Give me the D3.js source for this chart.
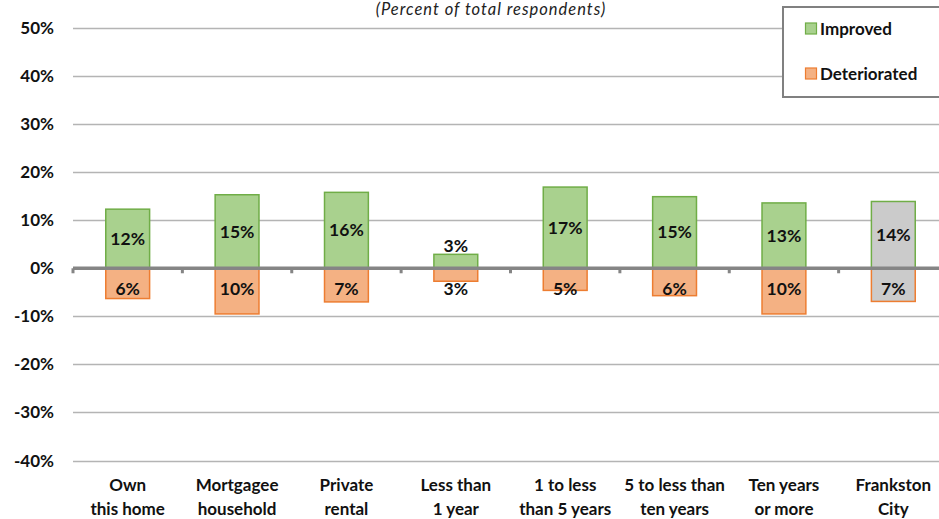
<!DOCTYPE html>
<html><head><meta charset="utf-8">
<script src="https://cdn.jsdelivr.net/npm/d3@7"></script>
<style>
html,body{margin:0;padding:0;background:#fff;overflow:hidden;}
text{font-family:Lato,"Open Sans",sans-serif;}
</style></head>
<body>
<svg id="chart" width="939" height="519"></svg>
<script>
const categories = [
  ["Own","this home"],
  ["Mortgagee","household"],
  ["Private","rental"],
  ["Less than","1 year"],
  ["1 to less","than 5 years"],
  ["5 to less than","ten years"],
  ["Ten years","or more"],
  ["Frankston","City"]
];
const improved = [12.3, 15.3, 15.8, 2.9, 16.9, 14.9, 13.6, 13.9];
const improvedLabels = ["12%","15%","16%","3%","17%","15%","13%","14%"];
const deteriorated = [-6.3, -9.5, -7.0, -2.7, -4.6, -5.7, -9.5, -6.9];
const deterioratedLabels = ["6%","10%","7%","3%","5%","6%","10%","7%"];
const yTicks = [50, 40, 30, 20, 10, 0, -10, -20, -30, -40];
const highlightIndex = 7;
const title = "(Percent of total respondents)";
const seriesNames = ["Improved","Deteriorated"];

const svg = d3.select("#chart");
const left = 73, right = 948;
const y = d3.scaleLinear().domain([-40, 50]).range([460.5, 28]);
const x = d3.scaleBand().domain(d3.range(categories.length)).range([left, right])
  .paddingInner(0.59).paddingOuter(0.295);

const C = {gFill:"#a9d18e", gStroke:"#70ad47", oFill:"#f4b183", oStroke:"#ed7d31", grey:"#cbcbcb"};
const FS = "17px";

// gridlines
svg.append("g").selectAll("line").data(yTicks.filter(d=>d!==0)).join("line")
  .attr("x1", left).attr("x2", 939)
  .attr("y1", d=>Math.round(y(d))+0.5).attr("y2", d=>Math.round(y(d))+0.5)
  .attr("stroke", "#b4b4b4").attr("stroke-width", 1.3);

// y axis labels
svg.append("g").selectAll("text").data(yTicks).join("text")
  .attr("x", 54).attr("y", d=>y(d)+6)
  .attr("text-anchor","end").attr("font-weight","bold").attr("font-size",FS)
  .attr("fill","#111").text(d=>d+"%");

// bars
const bw = x.bandwidth();
svg.append("g").selectAll("rect").data(improved).join("rect")
  .attr("x", (d,i)=>x(i)+0.5).attr("width", bw-1)
  .attr("y", d=>y(d)).attr("height", d=>y(0)-y(d))
  .attr("fill", (d,i)=> i===highlightIndex ? C.grey : C.gFill)
  .attr("stroke", C.gStroke).attr("stroke-width", 1.5);
svg.append("g").selectAll("rect").data(deteriorated).join("rect")
  .attr("x", (d,i)=>x(i)+0.5).attr("width", bw-1)
  .attr("y", y(0)).attr("height", d=>y(d)-y(0))
  .attr("fill", (d,i)=> i===highlightIndex ? C.grey : C.oFill)
  .attr("stroke", C.oStroke).attr("stroke-width", 1.5);

// zero axis
svg.append("line").attr("x1", left).attr("x2", 939).attr("y1", y(0)).attr("y2", y(0))
  .attr("stroke","#858585").attr("stroke-width",3.5);
svg.append("g").selectAll("line").data(d3.range(categories.length+1)).join("line")
  .attr("x1", i=>left + i*x.step()).attr("x2", i=>left + i*x.step())
  .attr("y1", y(0)).attr("y2", y(0)+5)
  .attr("stroke","#858585").attr("stroke-width",3);

// data labels
svg.append("g").selectAll("text").data(improved).join("text")
  .attr("x",(d,i)=>x(i)+bw/2)
  .attr("y", d=> (y(0)-y(d) < 25) ? y(d)-2 : (y(d)+y(0))/2+6)
  .attr("text-anchor","middle").attr("font-weight","bold").attr("font-size","17.5px")
  .attr("fill","#111").text((d,i)=>improvedLabels[i]);
svg.append("g").selectAll("text").data(deteriorated).join("text")
  .attr("x",(d,i)=>x(i)+bw/2)
  .attr("y", d=> y(-4.2)+6.5)
  .attr("text-anchor","middle").attr("font-weight","bold").attr("font-size","17.5px")
  .attr("fill","#111").text((d,i)=>deterioratedLabels[i]);

// category labels
const cat = svg.append("g").selectAll("text").data(categories).join("text")
  .attr("text-anchor","middle").attr("font-weight","bold").attr("font-size",FS).attr("fill","#111");
cat.each(function(d,i){
  const t = d3.select(this);
  d.forEach((line,k)=>{
    t.append("tspan").attr("x", x(i)+bw/2).attr("y", 491 + k*23.5).text(line);
  });
});

// title
svg.append("text").attr("x", 491).attr("y", 15).attr("text-anchor","middle")
  .attr("font-style","italic").attr("font-size","16.5px").attr("letter-spacing","1px")
  .attr("fill","#222").text(title);

// legend
svg.append("rect").attr("x",783).attr("y",7).attr("width",200).attr("height",90)
  .attr("fill","#fff").attr("stroke","#808080").attr("stroke-width",2);
const leg = [[C.gFill,C.gStroke,28.5],[C.oFill,C.oStroke,73.5]];
leg.forEach((l,k)=>{
  svg.append("rect").attr("x",805.5).attr("y",l[2]-5.5).attr("width",11).attr("height",11)
    .attr("fill",l[0]).attr("stroke",l[1]).attr("stroke-width",1.2);
  svg.append("text").attr("x",820).attr("y",l[2]+6).attr("font-weight","bold")
    .attr("font-size",FS).attr("fill","#111").text(seriesNames[k]);
});
</script>
</body></html>
